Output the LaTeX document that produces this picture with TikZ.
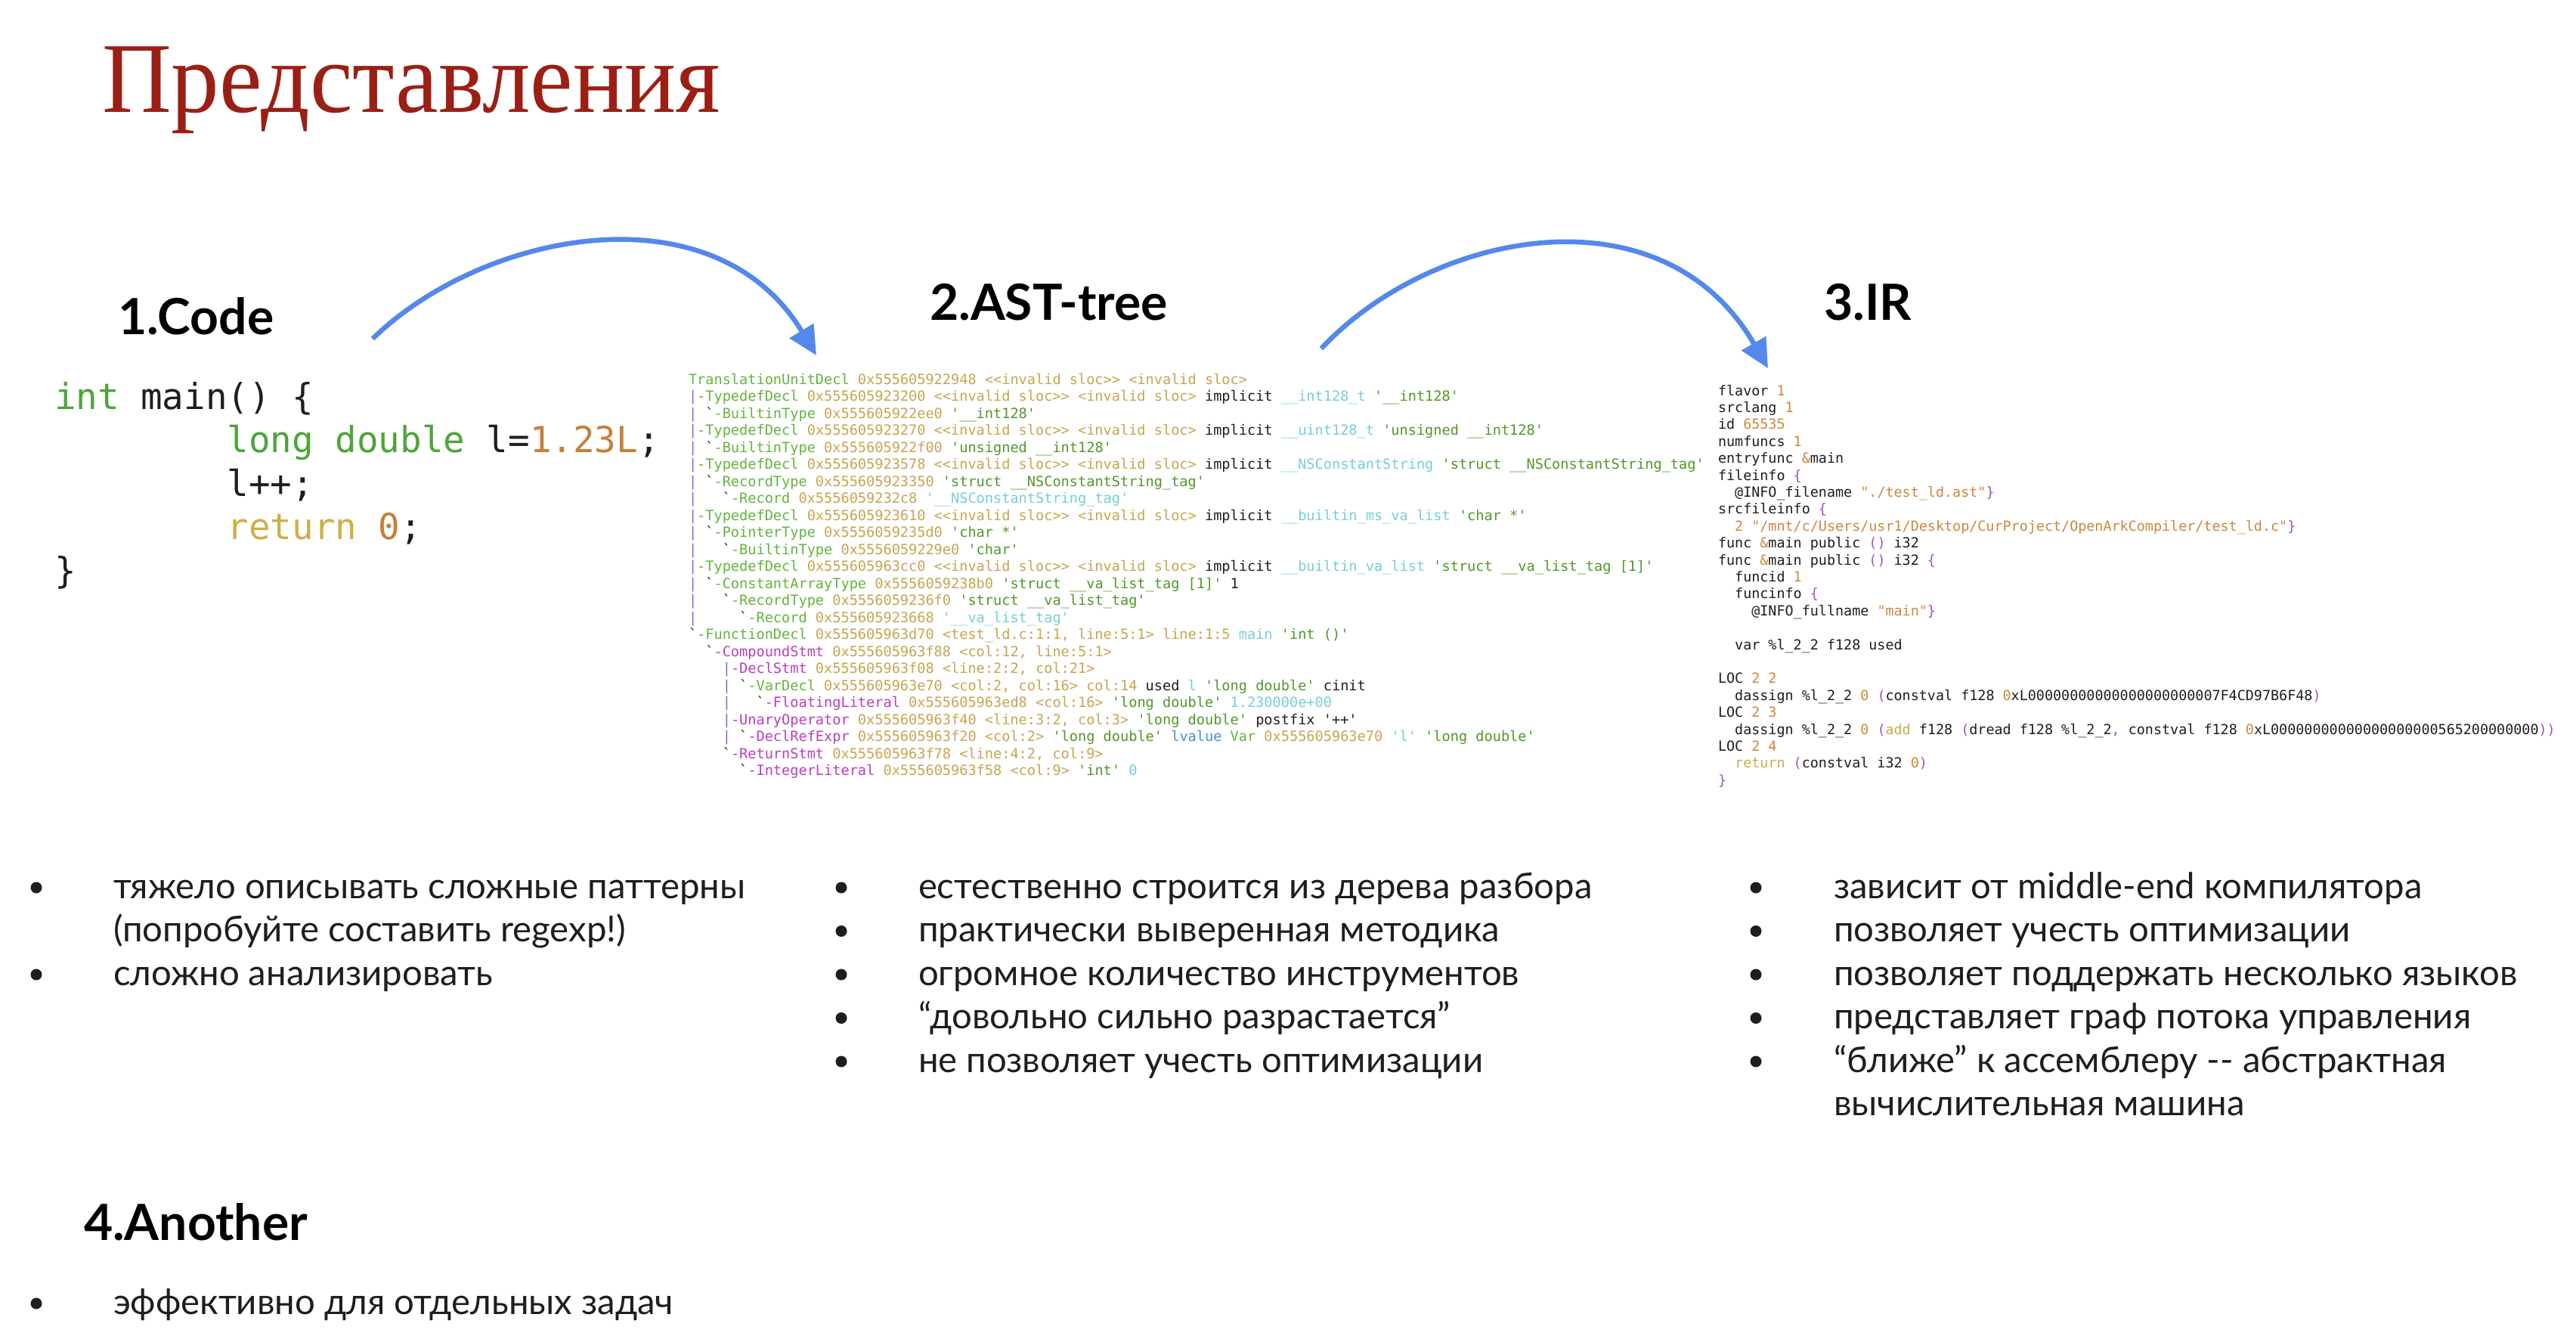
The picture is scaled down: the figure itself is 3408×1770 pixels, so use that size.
\documentclass[tikz,border=0pt]{standalone}
\usepackage{fontspec}
\setmainfont{Lato}
\setmonofont{DejaVu Sans Mono}
\newfontfamily\serifhead[FakeStretch=0.96]{Liberation Serif}
\usetikzlibrary{arrows.meta}

% palette
\definecolor{titlered}{RGB}{155,31,21}
\definecolor{inkblack}{RGB}{30,30,30}
\definecolor{flowblue}{RGB}{84,136,236}
% C source colours
\definecolor{srcgreen}{RGB}{78,165,58}
\definecolor{srcnum}{RGB}{196,128,58}
\definecolor{srckey}{RGB}{205,176,72}
% clang dump colours
\definecolor{declgreen}{RGB}{100,180,62}
\definecolor{typegreen}{RGB}{82,152,42}
\definecolor{locgold}{RGB}{200,165,80}
\definecolor{namecyan}{RGB}{120,206,212}
\definecolor{stmtmag}{RGB}{188,62,188}
\definecolor{barblue}{RGB}{112,112,228}
\definecolor{valblue}{RGB}{62,148,220}
% IR colours
\definecolor{irnum}{RGB}{205,135,62}
\definecolor{irpunct}{RGB}{158,82,200}
\definecolor{irkey}{RGB}{205,172,72}

% syntax colouring helpers
\newcommand\kSg[1]{\textcolor{srcgreen}{#1}}
\newcommand\kSn[1]{\textcolor{srcnum}{#1}}
\newcommand\kSk[1]{\textcolor{srckey}{#1}}
\newcommand\kD[1]{\textcolor{declgreen}{#1}}
\newcommand\kT[1]{\textcolor{typegreen}{#1}}
\newcommand\kA[1]{\textcolor{locgold}{#1}}
\newcommand\kN[1]{\textcolor{namecyan}{#1}}
\newcommand\kS[1]{\textcolor{stmtmag}{#1}}
\newcommand\kB[1]{\textcolor{barblue}{#1}}
\newcommand\kL[1]{\textcolor{valblue}{#1}}
\newcommand\kO[1]{\textcolor{irnum}{#1}}
\newcommand\kP[1]{\textcolor{irpunct}{#1}}
\newcommand\kG[1]{\textcolor{irkey}{#1}}

\begin{document}
\begin{tikzpicture}[x=1pt,y=-1pt,
  titletext/.style={anchor=base west,inner sep=0pt,outer sep=0pt,text=titlered,
    font=\serifhead\fontsize{132.5}{150}\selectfont},
  head/.style={anchor=base west,inner sep=0pt,outer sep=0pt,text=black,
    font=\fontsize{66}{75}\selectfont\bfseries},
  bullettext/.style={anchor=base west,inner sep=0pt,outer sep=0pt,text=inkblack,
    font=\fontsize{47.3}{57.5}\selectfont},
  dot/.style={fill=inkblack},
  codeline/.style={anchor=base west,inner sep=0pt,outer sep=0pt,text=inkblack,
    font=\ttfamily\fontsize{47.5}{57.5}\selectfont},
  astline/.style={anchor=base west,inner sep=0pt,outer sep=0pt,text=inkblack,
    font=\ttfamily\fontsize{18.6}{22.5}\selectfont},
  irline/.style={anchor=base west,inner sep=0pt,outer sep=0pt,text=inkblack,
    font=\ttfamily\fontsize{18.4}{22.4}\selectfont},
  flow/.style={draw=flowblue,line width=6.5pt,
    -{Triangle[length=38pt,width=36pt]}}]

\fill[white] (0,0) rectangle (3408,1770);
\useasboundingbox (0,0) rectangle (3408,1770);

% title
\node[titletext] (title) at (135,148) {Представления};

% stage headings
\node[head] (hcode) at (156,442) {1.Code};
\node[head] (hast)  at (1230,423) {2.AST-tree};
\node[head] (hir)   at (2413,423) {3.IR};
\node[head] (hoth)  at (111,1640) {4.Another};

% C source
\foreach \t [count=\i] in {
  {\kSg{int} main() \{},
  {~~~~~~~~\kSg{long double} l=\kSn{1.23L};},
  {~~~~~~~~l++;},
  {~~~~~~~~\kSk{return} \kSn{0};},
  {\}}}
  \node[codeline] (src\i) at (72,{541+57.5*(\i-1)}) {\t};

% clang AST dump
\foreach \t [count=\i] in {
  {\kD{TranslationUnitDecl} \kA{0x555605922948 <<invalid sloc>> <invalid sloc>}},
  {\kB{|}\kD{-TypedefDecl} \kA{0x555605923200 <<invalid sloc>> <invalid sloc>} implicit \kN{\_\_int128\_t} \kT{'\_\_int128'}},
  {\kB{|}~`\kD{-BuiltinType} \kA{0x555605922ee0} \kT{'\_\_int128'}},
  {\kB{|}\kD{-TypedefDecl} \kA{0x555605923270 <<invalid sloc>> <invalid sloc>} implicit \kN{\_\_uint128\_t} \kT{'unsigned \_\_int128'}},
  {\kB{|}~`\kD{-BuiltinType} \kA{0x555605922f00} \kT{'unsigned \_\_int128'}},
  {\kB{|}\kD{-TypedefDecl} \kA{0x555605923578 <<invalid sloc>> <invalid sloc>} implicit \kN{\_\_NSConstantString} \kT{'struct \_\_NSConstantString\_tag'}},
  {\kB{|}~`\kD{-RecordType} \kA{0x555605923350} \kT{'struct \_\_NSConstantString\_tag'}},
  {\kB{|}~~~`\kD{-Record} \kA{0x5556059232c8} \kN{'\_\_NSConstantString\_tag'}},
  {\kB{|}\kD{-TypedefDecl} \kA{0x555605923610 <<invalid sloc>> <invalid sloc>} implicit \kN{\_\_builtin\_ms\_va\_list} \kT{'char *'}},
  {\kB{|}~`\kD{-PointerType} \kA{0x5556059235d0} \kT{'char *'}},
  {\kB{|}~~~`\kD{-BuiltinType} \kA{0x5556059229e0} \kT{'char'}},
  {\kB{|}\kD{-TypedefDecl} \kA{0x555605963cc0 <<invalid sloc>> <invalid sloc>} implicit \kN{\_\_builtin\_va\_list} \kT{'struct \_\_va\_list\_tag [1]'}},
  {\kB{|}~`\kD{-ConstantArrayType} \kA{0x5556059238b0} \kT{'struct \_\_va\_list\_tag [1]'} 1},
  {\kB{|}~~~`\kD{-RecordType} \kA{0x5556059236f0} \kT{'struct \_\_va\_list\_tag'}},
  {\kB{|}~~~~~`\kD{-Record} \kA{0x555605923668} \kN{'\_\_va\_list\_tag'}},
  {`\kD{-FunctionDecl} \kA{0x555605963d70 <test\_ld.c:1:1, line:5:1> line:1:5} \kN{main} \kT{'int ()'}},
  {~~`\kS{-CompoundStmt} \kA{0x555605963f88 <col:12, line:5:1>}},
  {~~~~\kB{|}\kS{-DeclStmt} \kA{0x555605963f08 <line:2:2, col:21>}},
  {~~~~\kB{|}~`\kD{-VarDecl} \kA{0x555605963e70 <col:2, col:16> col:14} used \kN{l} \kT{'long double'} cinit},
  {~~~~\kB{|}~~~`\kS{-FloatingLiteral} \kA{0x555605963ed8 <col:16>} \kT{'long double'} \kN{1.230000e+00}},
  {~~~~\kB{|}\kS{-UnaryOperator} \kA{0x555605963f40 <line:3:2, col:3>} \kT{'long double'} postfix '++'},
  {~~~~\kB{|}~`\kS{-DeclRefExpr} \kA{0x555605963f20 <col:2>} \kT{'long double'} \kL{lvalue} \kD{Var} \kA{0x555605963e70} \kN{'l'} \kT{'long double'}},
  {~~~~`\kS{-ReturnStmt} \kA{0x555605963f78 <line:4:2, col:9>}},
  {~~~~~~`\kS{-IntegerLiteral} \kA{0x555605963f58 <col:9>} \kT{'int'} \kN{0}}}
  \node[astline] (ast\i) at (911,{508+22.5*(\i-1)}) {\t};

% Maple IR listing
\foreach \t [count=\i] in {
  {flavor \kO{1}},
  {srclang \kO{1}},
  {id \kO{65535}},
  {numfuncs \kO{1}},
  {entryfunc \kO{\&}main},
  {fileinfo \kP{\{}},
  {~~@INFO\_filename \kO{"./test\_ld.ast"}\kP{\}}},
  {srcfileinfo \kP{\{}},
  {~~\kO{2 "/mnt/c/Users/usr1/Desktop/CurProject/OpenArkCompiler/test\_ld.c"}\kP{\}}},
  {func \kO{\&}main public \kP{()} i32},
  {func \kO{\&}main public \kP{()} i32 \kP{\{}},
  {~~funcid \kO{1}},
  {~~funcinfo \kP{\{}},
  {~~~~@INFO\_fullname \kO{"main"}\kP{\}}},
  {},
  {~~var \%l\_2\_2 f128 used},
  {},
  {LOC \kO{2 2}},
  {~~dassign \%l\_2\_2 \kO{0} \kP{(}constval f128 \kO{0}xL00000000000000000000007F4CD97B6F48\kP{)}},
  {LOC \kO{2 3}},
  {~~dassign \%l\_2\_2 \kO{0} \kP{(}\kG{add} f128 \kP{(}dread f128 \%l\_2\_2\kP{,} constval f128 \kO{0}xL00000000000000000000565200000000\kP{))}},
  {LOC \kO{2 4}},
  {~~\kG{return} \kP{(}constval i32 \kO{0}\kP{)}},
  {\kP{\}}}}
  \node[irline] (ir\i) at (2273,{523+22.4*(\i-1)}) {\t};

% transitions between representations
\coordinate (f1s) at (493,448);
\coordinate (f1e) at (1080,470);
\coordinate (f2s) at (1748,461);
\coordinate (f2e) at (2339,487);
\draw[flow] (f1s) .. controls (640,305) and (945,247) .. (f1e);
\draw[flow] (f2s) .. controls (1895,304) and (2200,246) .. (f2e);

% bullet lists
\node[bullettext] (c1a) at (150,1188)   {тяжело описывать сложные паттерны};
\node[bullettext] (c1b) at (150,1245.5) {(попробуйте составить regexp!)};
\node[bullettext] (c1c) at (150,1303)   {сложно анализировать};
\foreach \y in {1188,1303} \fill[dot] (48,\y-14) circle (7.5);

\node[bullettext] (c2a) at (1215,1188)   {естественно строится из дерева разбора};
\node[bullettext] (c2b) at (1215,1245.5) {практически выверенная методика};
\node[bullettext] (c2c) at (1215,1303)   {огромное количество инструментов};
\node[bullettext] (c2d) at (1215,1360.5) {“довольно сильно разрастается”};
\node[bullettext] (c2e) at (1215,1418)   {не позволяет учесть оптимизации};
\foreach \y in {1188,1245.5,1303,1360.5,1418} \fill[dot] (1113,\y-14) circle (7.5);

\node[bullettext] (c3a) at (2426,1188)   {зависит от middle-end компилятора};
\node[bullettext] (c3b) at (2426,1245.5) {позволяет учесть оптимизации};
\node[bullettext] (c3c) at (2426,1303)   {позволяет поддержать несколько языков};
\node[bullettext] (c3d) at (2426,1360.5) {представляет граф потока управления};
\node[bullettext] (c3e) at (2426,1418)   {“ближе” к ассемблеру -{}- абстрактная};
\node[bullettext] (c3f) at (2426,1475.5) {вычислительная машина};
\foreach \y in {1188,1245.5,1303,1360.5,1418} \fill[dot] (2323,\y-14) circle (7.5);

\node[bullettext] (c4a) at (150,1738) {эффективно для отдельных задач};
\fill[dot] (48,1738-14) circle (7.5);

\end{tikzpicture}
\end{document}
